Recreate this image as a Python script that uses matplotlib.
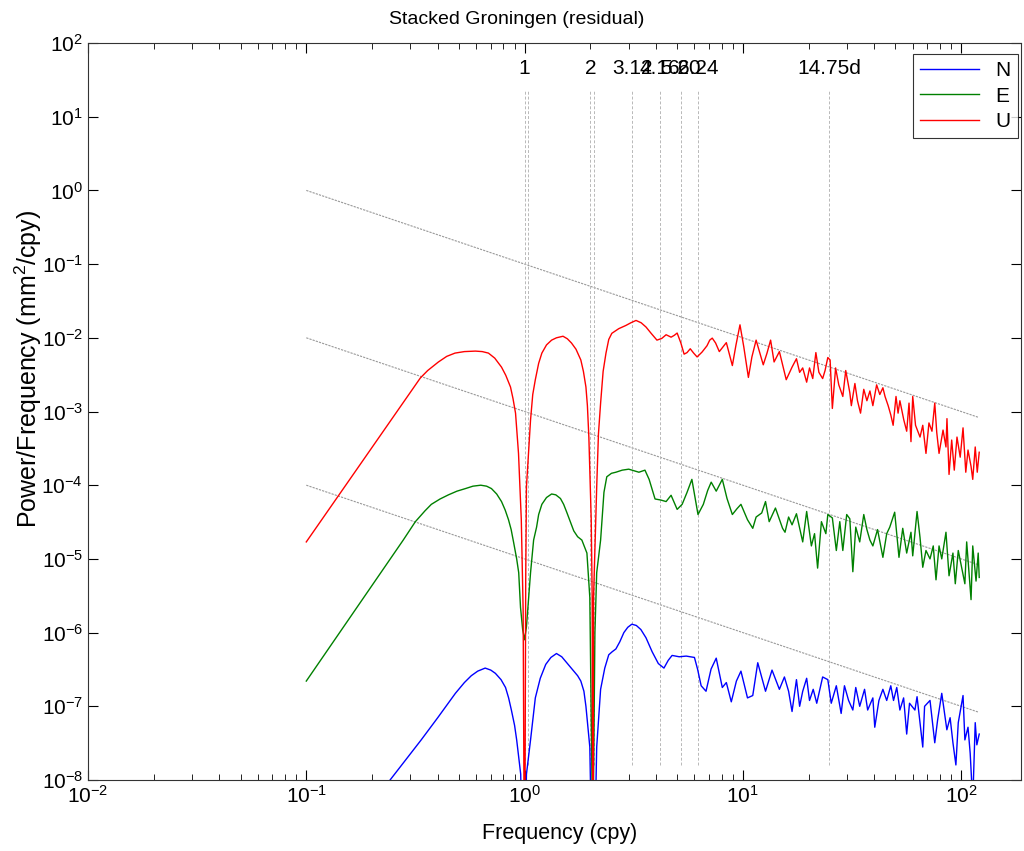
import numpy as np
import matplotlib.pyplot as plt

plt.rcParams['font.family'] = ['Liberation Sans', 'DejaVu Sans']
plt.rcParams['mathtext.default'] = 'regular'

# Spektren (Frequenz in cpy, Leistung in mm^2/cpy)
f_u = [0.1, 0.333, 0.36, 0.403, 0.44, 0.48, 0.53, 0.595, 0.64, 0.683, 0.73, 0.784, 0.82, 0.862, 0.885,
       0.909, 0.938, 0.966, 0.985, 1.0, 1.012, 1.02, 1.065, 1.09, 1.12, 1.16, 1.2, 1.26, 1.33, 1.4,
       1.5, 1.57, 1.64, 1.72, 1.81, 1.86, 1.91, 1.94, 1.97, 2.02, 2.04, 2.055, 2.07, 2.14, 2.18, 2.23,
       2.29, 2.36, 2.43, 2.51, 2.7, 2.91, 3.07, 3.24, 3.42, 3.6, 3.8, 4.04, 4.25, 4.45, 4.69, 4.85,
       5.0, 5.2, 5.38, 5.55, 5.74, 5.95, 6.17, 6.5, 6.85, 7.05, 7.24, 7.5, 7.8, 8.1, 8.4, 8.7,
       8.95, 9.3, 9.7, 10.1, 10.6, 11.0, 11.5, 12.0, 12.4, 12.9, 13.4, 13.9, 14.7, 15.8, 16.8, 17.6,
       18.2, 18.8, 19.6, 20.2, 20.9, 21.6, 22.3, 23.2, 23.8, 24.5, 25.1, 25.7, 26.6, 27.5, 28.7, 29.6,
       30.9, 31.4, 32.6, 33.5, 34.6, 35.8, 37.0, 38.2, 39.4, 41.0, 42.4, 43.8, 44.8, 46.3, 47.6, 48.8,
       50.3, 51.4, 52.4, 54.6, 56.3, 57.7, 58.9, 60.0, 61.8, 64.8, 66.7, 69.0, 71.2, 73.5, 75.7, 77.3,
       79.2, 82.6, 85.2, 86.1, 88.0, 90.5, 93.0, 95.7, 99.0, 102, 105, 107.5, 111, 113, 116, 118.5, 121]
p_u = [1.7e-5, 2.85e-3, 3.6e-3, 4.7e-3, 5.6e-3, 6.2e-3, 6.5e-3, 6.6e-3, 6.5e-3, 6.2e-3, 5.3e-3, 4.0e-3, 3.1e-3, 2.15e-3, 1.5e-3,
       9.5e-4, 2.7e-4, 3.4e-5, 2e-6, 1e-10, 5e-6, 9.5e-5, 7.7e-4, 1.7e-3, 2.7e-3, 4.5e-3, 6.2e-3, 8e-3, 9.3e-3, 1.0e-2,
       1.05e-2, 9.7e-3, 8.5e-3, 7e-3, 5.0e-3, 3.5e-3, 2.15e-3, 1.2e-3, 4.5e-4, 3.4e-5, 3e-6, 1e-10, 3e-6, 9.5e-5, 5e-4, 1.3e-3,
       3.5e-3, 6.2e-3, 9.5e-3, 1.15e-2, 1.33e-2, 1.47e-2, 1.6e-2, 1.72e-2, 1.6e-2, 1.4e-2, 1.15e-2, 9.3e-3, 9.8e-3, 1.1e-2, 1.02e-2, 1.08e-2,
       1.16e-2, 8.5e-3, 6.0e-3, 6.3e-3, 7.1e-3, 6.2e-3, 5.5e-3, 6.4e-3, 7.8e-3, 9.3e-3, 9.9e-3, 8.5e-3, 6.5e-3, 7.5e-3, 8.6e-3, 5.8e-3,
       4.2e-3, 8e-3, 1.5e-2, 7.5e-3, 2.9e-3, 5.5e-3, 9.3e-3, 6e-3, 4.3e-3, 6.2e-3, 9.3e-3, 4.7e-3, 6.5e-3, 2.7e-3, 4.0e-3, 5.2e-3,
       3.4e-3, 3.9e-3, 2.5e-3, 3.9e-3, 2.8e-3, 6.3e-3, 3.4e-3, 2.8e-3, 3.6e-3, 5.4e-3, 5.0e-3, 1.1e-3, 3.9e-3, 2.3e-3, 1.6e-3, 3.6e-3,
       1.8e-3, 1.2e-3, 2.4e-3, 1.4e-3, 9.5e-4, 2.0e-3, 1.4e-3, 1.9e-3, 1.2e-3, 2.3e-3, 1.7e-3, 2.1e-3, 1.6e-3, 1.2e-3, 9e-4, 6.5e-4,
       1.6e-3, 9.5e-4, 1.4e-3, 7.7e-4, 5.4e-4, 1.3e-3, 3.9e-4, 1.6e-3, 6.5e-4, 4.5e-4, 6.5e-4, 2.7e-4, 7e-4, 5.4e-4, 1.3e-3, 5.2e-4,
       2.7e-4, 5.6e-4, 3.3e-4, 8e-4, 1.4e-4, 4.1e-4, 1.6e-4, 4.5e-4, 2.4e-4, 6e-4, 1.5e-4, 3e-4, 1.8e-4, 1.2e-4, 3.3e-4, 1.5e-4, 2.8e-4]

f_e = [0.1, 0.278, 0.316, 0.35, 0.374, 0.41, 0.448, 0.49, 0.536, 0.58, 0.63, 0.67, 0.705, 0.745, 0.784,
       0.815, 0.844, 0.868, 0.89, 0.92, 0.94, 0.958, 0.98, 1.0, 1.02, 1.065, 1.1, 1.135, 1.16, 1.2,
       1.26, 1.33, 1.39, 1.46, 1.51, 1.56, 1.62, 1.68, 1.75, 1.83, 1.93, 1.99, 2.055, 2.1, 2.14, 2.23,
       2.31, 2.38, 2.5, 2.62, 2.8, 3.0, 3.34, 3.56, 3.72, 3.96, 4.2, 4.45, 4.69, 5.0, 5.27, 5.55,
       5.84, 6.23, 6.59, 6.9, 7.16, 7.55, 8.05, 8.46, 8.95, 9.4, 9.8, 10.5, 11.1, 11.5, 12.2, 12.7,
       13.2, 14.1, 15.2, 15.6, 16.2, 16.8, 17.6, 18.8, 19.6, 20.6, 21.3, 22.0, 22.9, 24.0, 24.5, 25.7,
       26.8, 27.8, 28.7, 29.9, 30.9, 31.9, 32.9, 34.3, 35.8, 37.0, 38.2, 39.4, 41.4, 43.8, 45.6, 47.1,
       49.6, 51.9, 54.0, 56.3, 58.9, 60.0, 62.8, 64.8, 66.7, 69.0, 72.0, 74.5, 76.7, 79.2, 81.5, 85.2,
       88.0, 91.7, 94.0, 97.0, 101, 104, 106, 111, 113, 117, 119.7, 121]
p_e = [2.2e-7, 1.8e-5, 3.2e-5, 4.5e-5, 5.5e-5, 6.5e-5, 7.4e-5, 8.3e-5, 9.0e-5, 9.7e-5, 1.0e-4, 9.7e-5, 9.0e-5, 7.6e-5, 6.0e-5,
       4.6e-5, 3.4e-5, 2.5e-5, 1.7e-5, 1e-5, 6.5e-6, 2.2e-6, 1.1e-6, 8e-7, 1.2e-6, 6.5e-6, 1.8e-5, 2.7e-5, 4e-5, 5.5e-5,
       6.8e-5, 7.6e-5, 7.4e-5, 6.6e-5, 5.5e-5, 4.3e-5, 3.2e-5, 2.4e-5, 2e-5, 1.8e-5, 1.2e-5, 3e-6, 1e-9, 1e-6, 6.5e-6, 1.8e-5,
       8e-5, 1.3e-4, 1.45e-4, 1.5e-4, 1.6e-4, 1.65e-4, 1.5e-4, 1.6e-4, 1.2e-4, 6.5e-5, 6.3e-5, 6e-5, 7.3e-5, 4.7e-5, 5.5e-5, 8e-5,
       1.2e-4, 4.0e-5, 5.5e-5, 8.5e-5, 1.1e-4, 8.3e-5, 1.2e-4, 6.6e-5, 4e-5, 4.8e-5, 5.5e-5, 3.4e-5, 2.6e-5, 3.7e-5, 4.2e-5, 6e-5,
       3.2e-5, 4.9e-5, 2.6e-5, 2.3e-5, 3.7e-5, 2.9e-5, 4.1e-5, 1.7e-5, 4.4e-5, 1.5e-5, 2.2e-5, 7.5e-6, 3.2e-5, 2.2e-5, 4e-5, 3.6e-5,
       1.3e-5, 3.2e-5, 1.3e-5, 4e-5, 3.5e-5, 6.7e-6, 2.7e-5, 1.7e-5, 4e-5, 2.5e-5, 1.8e-5, 1.5e-5, 2.5e-5, 1.05e-5, 2.2e-5, 2.7e-5,
       4.3e-5, 1.05e-5, 2.6e-5, 1.2e-5, 2.3e-5, 1.1e-5, 4.4e-5, 1.95e-5, 7.7e-6, 1.3e-5, 1e-5, 1.5e-5, 5.2e-6, 1.5e-5, 1e-5, 2.3e-5,
       5.9e-6, 1.2e-5, 4.6e-6, 1.3e-5, 7.1e-6, 4.6e-6, 1.7e-5, 2.8e-6, 1.5e-5, 5e-6, 1.2e-5, 5.6e-6]

f_n = [0.1, 0.242, 0.336, 0.4, 0.482, 0.53, 0.57, 0.61, 0.66, 0.7, 0.735, 0.78, 0.818, 0.845, 0.87,
       0.9, 0.92, 0.96, 0.99, 1.02, 1.065, 1.12, 1.18, 1.25, 1.32, 1.4, 1.48, 1.56, 1.62, 1.68,
       1.75, 1.81, 1.87, 1.91, 1.99, 2.06, 2.14, 2.23, 2.33, 2.43, 2.52, 2.62, 2.73, 2.85, 2.97, 3.1,
       3.25, 3.41, 3.6, 3.84, 4.1, 4.35, 4.55, 4.74, 5.11, 5.5, 6.0, 6.2, 6.44, 6.78, 7.15, 7.55,
       8.05, 8.4, 8.85, 9.34, 9.8, 10.5, 11.1, 11.7, 12.7, 13.6, 14.7, 15.5, 16.2, 16.8, 17.6, 18.2,
       18.8, 19.6, 20.2, 21.0, 21.8, 23.2, 24.5, 25.4, 26.8, 28.2, 29.2, 30.5, 31.9, 32.9, 34.3, 36.1,
       37.3, 39.4, 40.2, 42.0, 43.8, 45.6, 47.6, 49.0, 50.7, 52.4, 54.5, 56.3, 58.0, 61.4, 62.8, 66.7,
       68.0, 72.0, 75.7, 78.0, 81.5, 86.0, 89.0, 91.7, 94.6, 97.0, 102, 104, 107.5, 110, 113, 116, 118, 121]
p_n = [2.2e-10, 1e-8, 3.5e-8, 7e-8, 1.5e-7, 2.1e-7, 2.6e-7, 3.0e-7, 3.3e-7, 3.1e-7, 2.8e-7, 2.3e-7, 1.8e-7, 1.3e-7, 8.9e-8,
       5.5e-8, 3.5e-8, 1.2e-8, 1e-10, 1.2e-8, 3.5e-8, 1.3e-7, 2.4e-7, 3.7e-7, 4.6e-7, 5.2e-7, 4.7e-7, 3.9e-7, 3.4e-7, 3.0e-7,
       2.6e-7, 2.2e-7, 1.6e-7, 1.0e-7, 2.8e-8, 1e-10, 2.8e-8, 1.7e-7, 3.3e-7, 5e-7, 5.5e-7, 6e-7, 7.5e-7, 1.0e-6, 1.18e-6, 1.3e-6,
       1.25e-6, 1.1e-6, 8.5e-7, 5.5e-7, 3.8e-7, 3.3e-7, 4.2e-7, 4.9e-7, 4.7e-7, 4.8e-7, 4.6e-7, 3.2e-7, 1.9e-7, 1.6e-7, 3.2e-7, 4.5e-7,
       1.8e-7, 2.1e-7, 1.15e-7, 2.2e-7, 3.0e-7, 1.3e-7, 1.4e-7, 3.9e-7, 1.6e-7, 3.1e-7, 1.7e-7, 2.5e-7, 1.6e-7, 8.5e-8, 2.3e-7, 1.0e-7,
       1.6e-7, 2.4e-7, 1.2e-7, 1.7e-7, 1.1e-7, 2.5e-7, 2.3e-7, 1.1e-7, 1.9e-7, 8e-8, 1.9e-7, 1.2e-7, 8.9e-8, 1.8e-7, 1.0e-7, 1.7e-7,
       8.9e-8, 1.3e-7, 5.2e-8, 1.2e-7, 1.7e-7, 1.2e-7, 1.9e-7, 1.2e-7, 1.8e-7, 8.9e-8, 1.3e-7, 4.2e-8, 1.1e-7, 8.9e-8, 1.35e-7, 2.8e-8,
       1e-7, 1.2e-7, 3.2e-8, 6.5e-8, 1.5e-7, 4.8e-8, 7e-8, 3.2e-8, 1.6e-8, 6e-8, 1.4e-7, 3.5e-8, 5.2e-8, 2.3e-8, 5e-9, 6e-8, 3e-8, 4.2e-8]

# Referenzgeraden (Steigung -1)
ref_f = [0.1, 120]
ref_start = [1.0, 1e-2, 1e-4]

# markierte Perioden
mark_f = [1.0, 1.04, 2.0, 2.08, 3.12, 4.16, 5.2, 6.24, 24.76]
label_f = [1.0, 2.0, 3.12, 4.16, 5.2, 6.24, 24.76]
label_txt = ['1', '2', '3.12', '4.16', '5.20', '6.24', '14.75d']

fig = plt.figure(figsize=(10.24, 8.51), dpi=100)
ax = fig.add_axes([88/1024, 1 - 780/851, (1021 - 88)/1024, (780 - 43)/851])

for s in ref_start:
    ax.loglog(ref_f, [s, s * ref_f[0] / ref_f[1]], color='0.6', lw=0.8, ls=(0, (2, 1)))

for f in mark_f:
    ax.plot([f, f], [1.6e-8, 23], color='0.72', lw=0.7, ls=(0, (3, 2)))
for f, t in zip(label_f, label_txt):
    ax.text(f, 45, t, ha='center', va='center', fontsize=15)

ax.loglog(f_n, p_n, color='#0000ff', lw=1.0, label='N')
ax.loglog(f_e, p_e, color='#008000', lw=1.0, label='E')
ax.loglog(f_u, p_u, color='#ff0000', lw=1.0, label='U')

ax.set_xlim(1e-2, 188)
ax.set_ylim(1e-8, 1e2)
ax.set_yticks([10.0**k for k in range(-8, 3)])
ax.set_xticks([10.0**k for k in range(-2, 3)])
ax.tick_params(which='both', direction='in', top=True, right=True, labelsize=15)
ax.tick_params(which='major', length=7)
ax.tick_params(which='minor', length=4)
for sp in ax.spines.values():
    sp.set_color('0.2')

# Beschriftungen
fig.text(517/1024, 1 - 19/851, 'Stacked Groningen (residual)', ha='center', va='center', fontsize=14)
fig.text(560/1024, 1 - 833/851, 'Frequency (cpy)', ha='center', va='center', fontsize=15.5)
fig.text(28/1024, 1 - 369/851, 'Power/Frequency (mm$^2$/cpy)', ha='center', va='center',
         rotation=90, fontsize=18)

leg = ax.legend(loc='upper right', bbox_to_anchor=(0.9968, 0.985), fontsize=15, fancybox=False,
                handlelength=2.8, borderaxespad=0.0, labelspacing=0.3, borderpad=0.35)
leg.get_frame().set_edgecolor('black')
leg.get_frame().set_linewidth(0.8)

fig.savefig('out.png', dpi=100)
